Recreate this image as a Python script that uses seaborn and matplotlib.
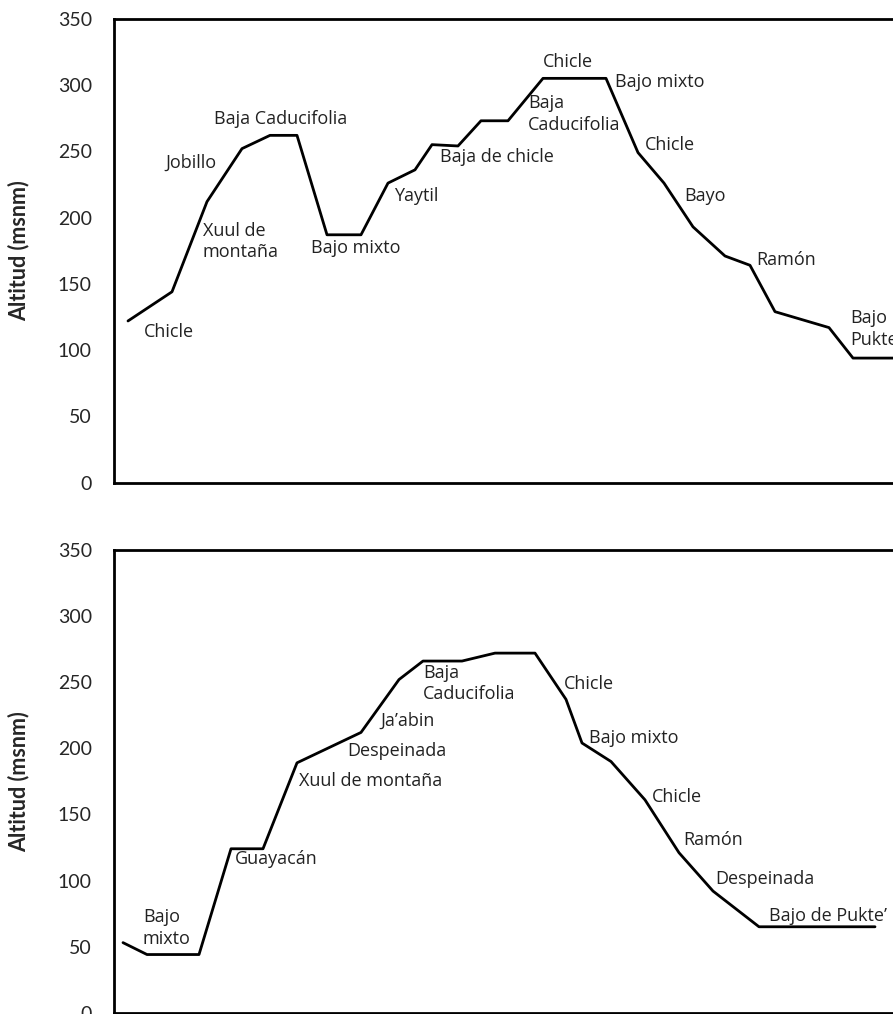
import pandas as pd
import matplotlib.pyplot as plt
import seaborn as sns

# Perfil 1: distancia (unidades relativas) y altitud (msnm)
dist_1 = [14, 58, 93, 128, 156, 183, 213, 247, 274, 301, 318, 344, 367, 394,
          429, 492, 524, 550, 579, 611, 636, 661, 715, 739, 800]
alt_1 = [122, 144, 212, 252, 262, 262, 187, 187, 226, 236, 255, 254, 273, 273,
         305, 305, 249, 226, 193, 171, 164, 129, 117, 94, 94]

# Perfil 2
dist_2 = [9, 33, 85, 117, 149, 183, 247, 285, 309, 348, 381, 421, 452, 468,
          497, 531, 565, 599, 645, 761]
alt_2 = [53, 44, 44, 124, 124, 189, 212, 252, 266, 266, 272, 272, 237, 204,
         190, 161, 121, 92, 65, 65]

# Etiquetas de vegetacion
labels_1 = ["Chicle", "Xuul de\nmontaña", "Jobillo", "Baja Caducifolia", "Bajo mixto",
            "Yaytil", "Baja de chicle", "Baja\nCaducifolia", "Chicle", "Bajo mixto",
            "Chicle", "Bayo", "Ramón", "Bajo\nPukte’"]
lab_x_1 = [30, 89, 51, 100, 197, 280, 326, 414, 429, 501, 531, 570, 642, 736]
lab_y_1 = [114, 182, 241, 274, 177, 216, 246, 278, 317, 302, 255, 216, 168, 116]

labels_2 = ["Bajo\nmixto", "Guayacán", "Xuul de montaña", "Despeinada", "Ja’abin",
            "Baja\nCaducifolia", "Chicle", "Bajo mixto", "Chicle", "Ramón",
            "Despeinada", "Bajo de Pukte’"]
lab_x_2 = [29, 121, 185, 233, 266, 309, 450, 475, 538, 569, 601, 655]
lab_y_2 = [64, 116, 175, 198, 221, 249, 249, 208, 163, 131, 101, 73]

sns.set_style("white")
plt.rcParams['font.family'] = ['Lato', 'DejaVu Sans']

fig = plt.figure(figsize=(8.93, 10.14), dpi=100)
ax1 = fig.add_axes([114 / 893, 1 - 482.7 / 1014, 800 / 893, 464 / 1014])
ax2 = fig.add_axes([114 / 893, 1 - 1012.7 / 1014, 800 / 893, 462.7 / 1014])

panels = [(ax1, dist_1, alt_1, labels_1, lab_x_1, lab_y_1),
          (ax2, dist_2, alt_2, labels_2, lab_x_2, lab_y_2)]

for ax, d, a, labs, lx, ly in panels:
    df = pd.DataFrame({'dist': d, 'alt': a})
    sns.lineplot(data=df, x='dist', y='alt', sort=False, estimator=None,
                 color='black', linewidth=2, ax=ax)
    for t, x, y in zip(labs, lx, ly):
        ax.text(x, y, t, fontsize=13, color='#222222', ha='left', va='center',
                family=['Open Sans', 'DejaVu Sans'], linespacing=1.26)
    ax.set_xlim(0, 800)
    ax.set_ylim(0, 350)
    ax.set_yticks(range(0, 351, 50))
    ax.set_xticks([])
    ax.set_xlabel('')
    ax.set_ylabel('Altitud (msnm)', fontsize=15.5, fontweight='bold', labelpad=20)
    ax.tick_params(axis='y', labelsize=14, length=0, pad=16)
    for s in ax.spines.values():
        s.set_color('black')
        s.set_linewidth(2)

fig.savefig('out.png', dpi=100)
